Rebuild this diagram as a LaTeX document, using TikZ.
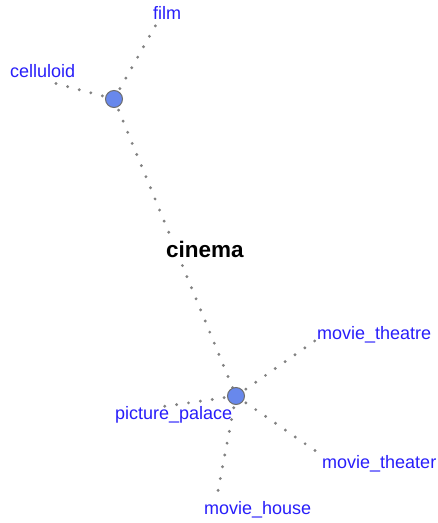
\documentclass[tikz,border=0pt]{standalone}
\usepackage{fontspec}
\setmainfont{Liberation Sans}
\begin{document}
\begin{tikzpicture}[x=1pt,y=-1pt,
  lbl/.style={text=labelblue,font=\fontsize{18}{20}\selectfont,inner sep=0pt,anchor=base west},
  hub/.style={circle,fill=hubblue,draw=hubgray,line width=1pt,minimum size=17pt,inner sep=0pt},
  link/.style={draw=dotgray,line width=3.2pt,line cap=round,dash pattern=on 0pt off 12pt}]
\definecolor{labelblue}{RGB}{40,30,250}
\definecolor{hubblue}{RGB}{104,136,236}
\definecolor{hubgray}{RGB}{110,110,110}
\definecolor{dotgray}{RGB}{130,130,130}
\useasboundingbox[fill=white] (0,0) rectangle (438,523);
% hubs positions
\coordinate (h1) at (114,99);
\coordinate (h2) at (236,396);
% free ends
\coordinate (efilm) at (157,23);
\coordinate (ecell) at (54,83);
\coordinate (etheatre) at (316,340);
\coordinate (etheater) at (320,454);
\coordinate (epalace) at (153,408);
\coordinate (ehouse) at (217,496);
% links
\draw[link] (h1) -- (efilm);
\draw[link] (h1) -- (ecell);
\draw[link] (h1) -- (h2);
\draw[link] (h2) -- (etheatre);
\draw[link] (h2) -- (etheater);
\draw[link] (h2) -- (epalace);
\draw[link] (h2) -- (ehouse);
% hub circles
\node[hub] (hub1) at (h1) {};
\node[hub] (hub2) at (h2) {};
% labels
\node[lbl] (film) at (153,19) {film};
\node[lbl] (celluloid) at (10,77) {celluloid};
\node[lbl] (theatre) at (317,339) {movie\_theatre};
\node[lbl] (theater) at (322,468) {movie\_theater};
\node[lbl] (palace) at (115,419) {picture\_palace};
\node[lbl] (house) at (204,514) {movie\_house};
\node[anchor=base west,inner sep=1pt,fill=white,font=\bfseries\fontsize{22.5}{24}\selectfont] (cinema) at (165,257) {cinema};
\end{tikzpicture}
\end{document}
